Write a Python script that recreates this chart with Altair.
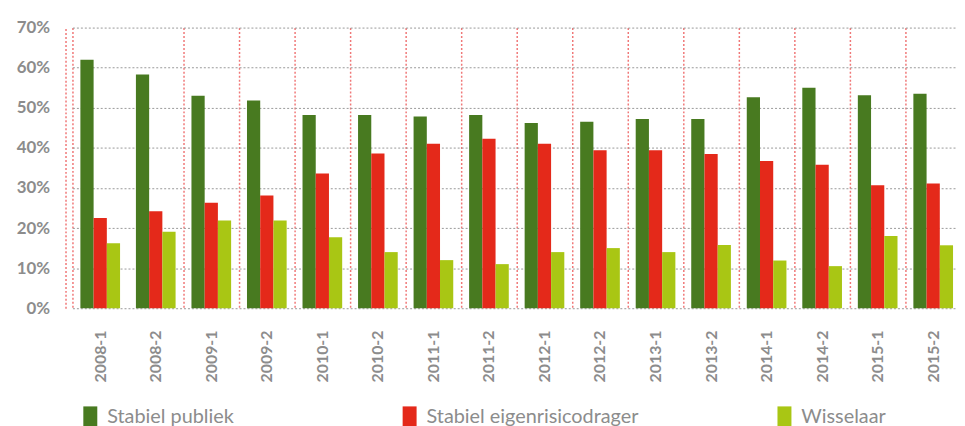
import altair as alt
import pandas as pd

periods = ["2008-1", "2008-2", "2009-1", "2009-2", "2010-1", "2010-2", "2011-1", "2011-2",
           "2012-1", "2012-2", "2013-1", "2013-2", "2014-1", "2014-2", "2015-1", "2015-2"]
series = ["Stabiel publiek", "Stabiel eigenrisicodrager", "Wisselaar"]
colors = ["#487a20", "#e4291a", "#a9c614"]

publiek = [62.0, 58.3, 53.0, 51.8, 48.2, 48.2, 47.8, 48.2, 46.2, 46.5, 47.2, 47.2, 52.6, 55.0, 53.1, 53.5]
eigen = [22.5, 24.2, 26.3, 28.1, 33.6, 38.6, 41.0, 42.3, 41.0, 39.4, 39.4, 38.5, 36.7, 35.8, 30.7, 31.1]
wissel = [16.2, 19.1, 21.9, 21.9, 17.7, 14.0, 12.0, 11.0, 14.0, 15.0, 14.0, 15.8, 11.9, 10.5, 18.0, 15.7]

rows = []
for s, vals in zip(series, [publiek, eigen, wissel]):
    for p, v in zip(periods, vals):
        rows.append({"period": p, "series": s, "value": v / 100})
df = pd.DataFrame(rows)

GRAY = "#8c8c8c"
FONT = "Lato"
PINK = "#f07878"

chart = alt.Chart(df).mark_bar().encode(
    x=alt.X(
        "period:N", sort=periods,
        scale=alt.Scale(paddingInner=0, paddingOuter=0, range=[7, 903]),
        axis=alt.Axis(
            title=None, labelAngle=-90, labelAlign="right", labelBaseline="middle",
            labelPadding=22, labelFont=FONT, labelFontWeight="bold", labelFontSize=16,
            labelColor=GRAY, ticks=False, domain=False, grid=True, tickBand="extent",
            gridColor=PINK, gridDash=[2, 2], gridWidth=1.5,
            gridOpacity={"condition": {"test": "datum.value == '2008-1'", "value": 0}, "value": 1},
        ),
    ),
    xOffset=alt.XOffset("series:N", sort=series, scale=alt.Scale(paddingInner=0, paddingOuter=0.6)),
    y=alt.Y(
        "value:Q",
        scale=alt.Scale(domain=[0, 0.7], nice=False),
        axis=alt.Axis(
            title=None, format=".0%", values=[0, 0.1, 0.2, 0.3, 0.4, 0.5, 0.6, 0.7],
            labelFont=FONT, labelFontWeight="bold", labelFontSize=17, labelColor=GRAY,
            labelPadding=16, ticks=False, domain=True, domainColor=PINK, domainWidth=1.5,
            domainDash=[2, 2], gridColor="#999999", gridDash=[2, 2],
        ),
    ),
    color=alt.Color(
        "series:N", sort=series,
        scale=alt.Scale(domain=series, range=colors),
        legend=alt.Legend(
            title=None, orient="none", legendX=14, legendY=382, direction="horizontal",
            columns=3, columnPadding=136, gridAlign="each",
            symbolType="M-0.64,-1H0.64V1H-0.64Z", symbolSize=484, symbolStrokeWidth=0,
            labelFont=FONT, labelFontSize=20, labelColor=GRAY, labelOffset=6, labelLimit=400,
            labelExpr="datum.label == 'Stabiel publiek' ? datum.label + '\u2800\u2800' : datum.label",
        ),
    ),
).properties(
    width=899, height=283,
    autosize=alt.AutoSizeParams(type="none"),
    padding={"left": 58, "top": 18, "right": 0, "bottom": 117},
    background="white",
).configure_view(stroke=None)

chart.save("out.html", embed_options={"renderer": "svg", "actions": False})
